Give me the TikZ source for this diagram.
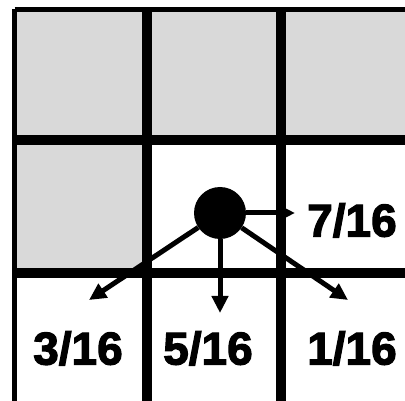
\documentclass[tikz,border=0pt]{standalone}
\usepackage{fontspec}
\setmainfont{Liberation Sans}
\usetikzlibrary{arrows.meta}
\definecolor{cellgray}{HTML}{D9D9D9}
\newcommand{\heavytext}[1]{\special{pdf:literal direct 2 Tr 1.2 w}#1\special{pdf:literal direct 0 Tr}}
\begin{document}
\begin{tikzpicture}[x=1pt,y=-1pt,
  gridline/.style={line width=10pt},
  frameline/.style={line width=5.5pt},
  flow/.style={line width=5pt,-{Triangle[length=17pt,width=16pt]}},
  weight/.style={font=\bfseries\fontsize{46}{46}\selectfont,anchor=base,inner sep=0pt}]
\useasboundingbox (0,0) rectangle (405,401);
\fill[white] (0,0) rectangle (405,401);
% gray cells
\fill[cellgray] (14,9) rectangle (405,140);
\fill[cellgray] (14,140) rectangle (147,273);
% grid
\draw[frameline] (14.5,9.5) -- (405,9.5);
\draw[frameline] (14.5,9.5) -- (14.5,401);
\draw[gridline] (147,9) -- (147,401);
\draw[gridline] (281,9) -- (281,401);
\draw[gridline] (12,140) -- (405,140);
\draw[gridline] (12,273) -- (405,273);
% pixel and arrows
\node[circle,fill=black,minimum size=52pt,inner sep=0pt] (dot) at (220,213) {};
\coordinate (tr) at (295,213);
\coordinate (td) at (220,313);
\coordinate (tl) at (89,300);
\coordinate (tdr) at (348,300);
\draw[flow] (dot) -- (tr);
\draw[flow] (dot) -- (td);
\draw[flow] (dot) -- (tl);
\draw[flow] (dot) -- (tdr);
% weights
\node[weight] (w7) at (352,236.5) {\heavytext{7/16}};
\node[weight] (w3) at (78,364.5) {\heavytext{3/16}};
\node[weight] (w5) at (208,364.5) {\heavytext{5/16}};
\node[weight] (w1) at (352,364.5) {\heavytext{1/16}};
\end{tikzpicture}
\end{document}
